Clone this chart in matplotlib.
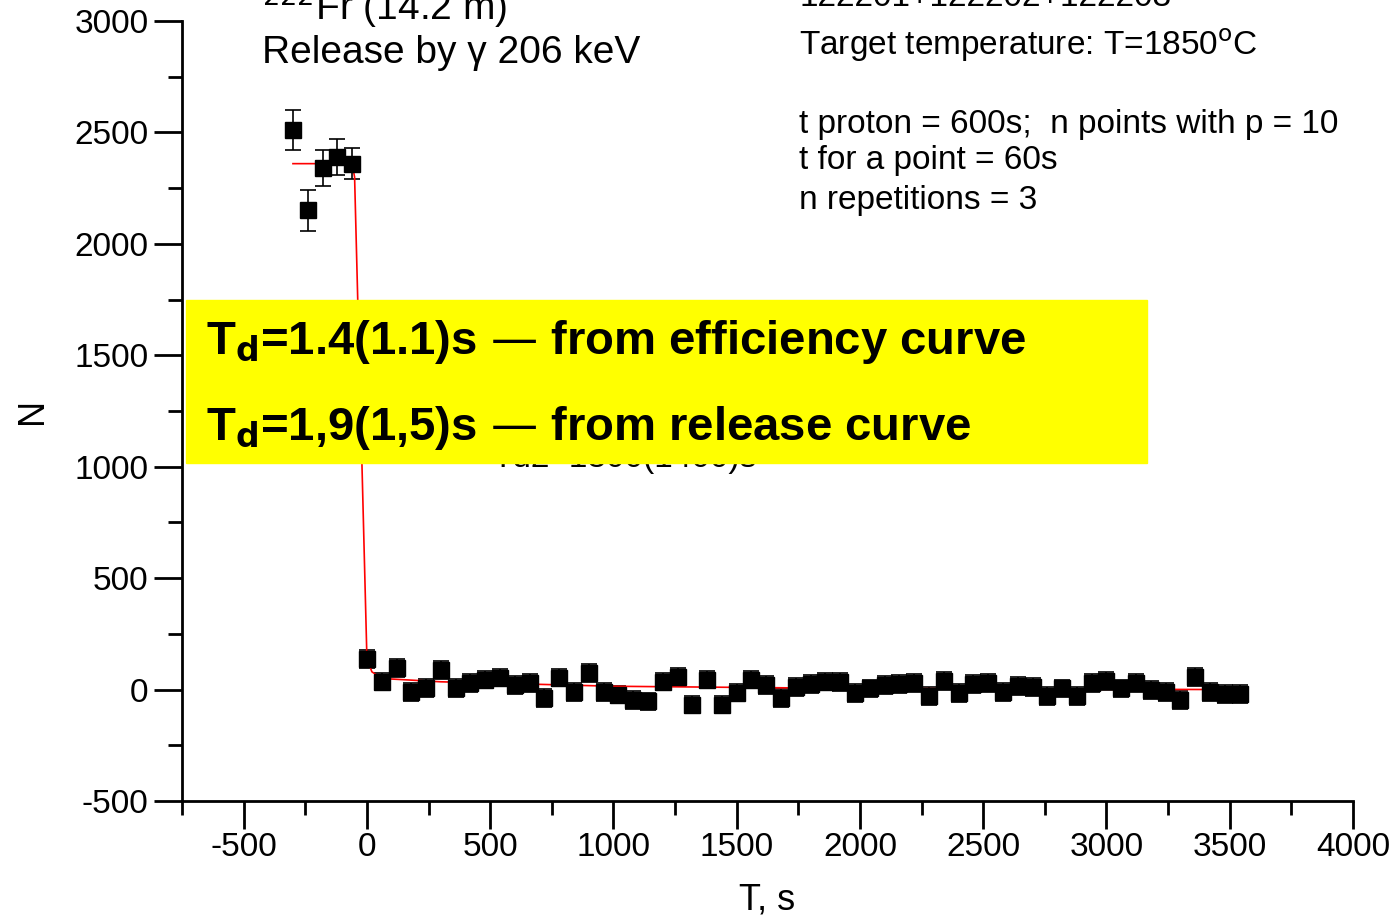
import numpy as np
import matplotlib.pyplot as plt
from matplotlib.ticker import MultipleLocator

plt.rcParams['font.family'] = ['Liberation Sans', 'DejaVu Sans']
plt.rcParams['axes.unicode_minus'] = False

# measured points, 60 s apart
t_pre = [-300, -240, -180, -120, -60]
n_pre = [2510, 2150, 2340, 2390, 2360]
n_post = [138, 36, 98, -9, 9, 89, 9, 31, 45, 54, 22, 31, -36, 54, -9, 76, -9, -22,
          -45, -53, 36, 58, -67, 45, -67, -13, 45, 22, -36, 13, 25, 36, 35, -15, 5,
          20, 25, 30, -30, 40, -15, 25, 30, -10, 15, 10, -30, 5, -30, 30, 40, 5, 30,
          0, -10, -45, 55, -10, -20, -20]
t_post = list(range(0, 60 * len(n_post), 60))
err_pre = [90, 90, 80, 80, 70]
err_post = 40

# fitted release curve
t_fit = [-300, -60, -50, 0, 20, 60, 300, 1000, 2000, 3540]
n_fit = [2360, 2360, 2300, 140, 80, 50, 35, 15, 5, 0]

W, H = 1397, 922
fig = plt.figure(figsize=(W / 100, H / 100), dpi=100)
ax = fig.add_axes([0.1303, 0.1312, 0.8382, 0.846])

t = t_pre + t_post
n = n_pre + n_post
e = err_pre + [err_post] * len(n_post)
ax.errorbar(t, n, yerr=e, fmt='s', color='black', ms=11, capsize=6,
            elinewidth=1.2, capthick=1.2)
ax.plot(t_fit, n_fit, color='red', lw=1.2)

ax.set_xlim(-750, 4000)
ax.set_ylim(-500, 3000)
ax.xaxis.set_major_locator(MultipleLocator(500))
ax.xaxis.set_minor_locator(MultipleLocator(250))
ax.yaxis.set_major_locator(MultipleLocator(500))
ax.yaxis.set_minor_locator(MultipleLocator(250))
for s in ['top', 'right']:
    ax.spines[s].set_visible(False)
for s in ['left', 'bottom']:
    ax.spines[s].set_linewidth(2)
ax.tick_params(which='major', length=20, width=2, labelsize=24, pad=4)
ax.tick_params(which='x' and 'major', axis='x', pad=2)
ax.tick_params(which='minor', length=10, width=2)
ax.set_xlabel('T, s', fontsize=26, labelpad=14)
ax.set_ylabel('N', fontsize=26, labelpad=18)


def px_text(x, y, s, **kw):
    fig.text(x / W, 1 - y / H, s, va='center', **kw)


px_text(262, 6, '$^{222}$Fr (14.2 m)', fontsize=28)
px_text(262, 53, 'Release by \u03b3 206 keV', fontsize=28)
px_text(799, -2, '122201+122202+122203', fontsize=24)
px_text(799, 45, 'Target temperature: T=1850$^{\\rm o}$C', fontsize=24)
px_text(799, 124, 't proton = 600s;  n points with p = 10', fontsize=24)
px_text(799, 161, 't for a point = 60s', fontsize=24)
px_text(799, 200, 'n repetitions = 3', fontsize=24)
px_text(492, 458, 'Td2=1300(1400)s', fontsize=24, zorder=1)

fig.patches.append(plt.Rectangle((186 / W, 1 - 463 / H), 961 / W, 163 / H,
                                 transform=fig.transFigure, color='#ffff00', zorder=5))
px_text(206, 342, 'T$_\\mathbf{d}$=1.4(1.1)s \u2014 from efficiency curve',
        fontsize=34, fontweight='bold', zorder=6)
px_text(206, 428, 'T$_\\mathbf{d}$=1,9(1,5)s \u2014 from release curve',
        fontsize=34, fontweight='bold', zorder=6)

fig.savefig('out.png')
